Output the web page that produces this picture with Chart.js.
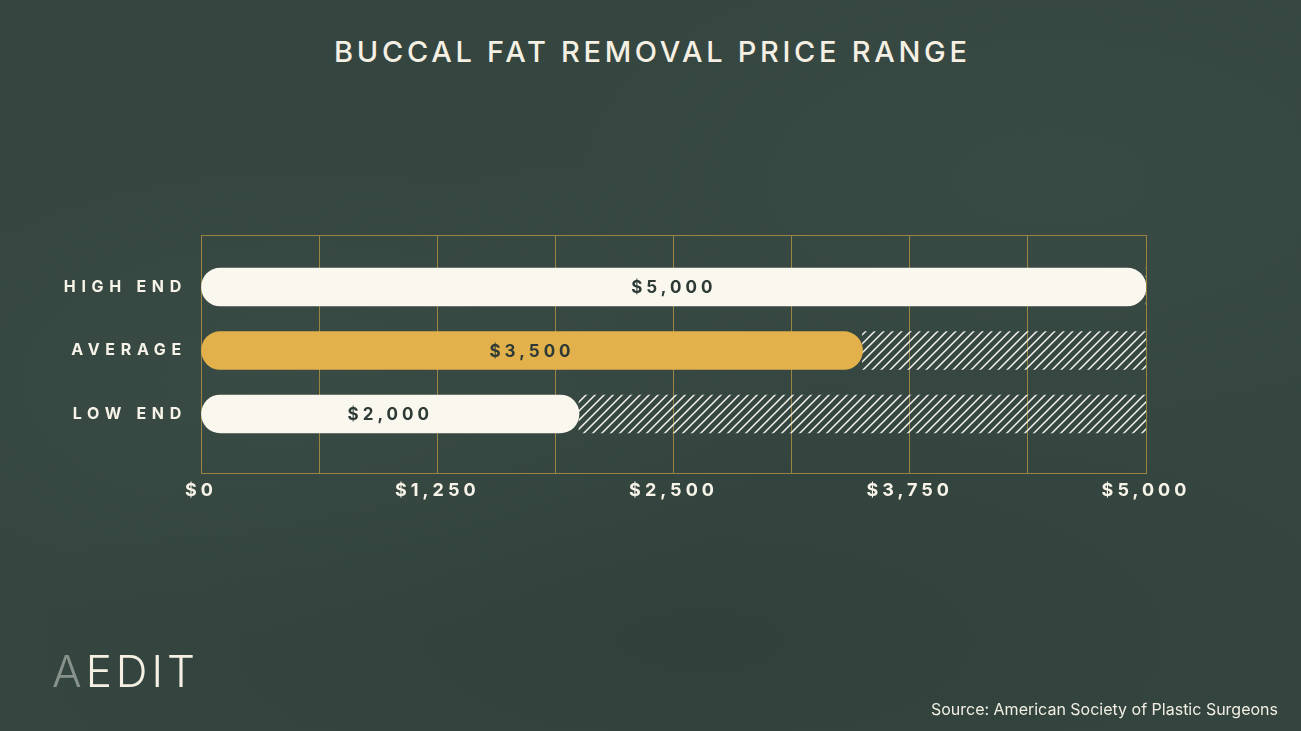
<!DOCTYPE html>
<html>
<head>
<meta charset="utf-8">
<script src="https://cdn.jsdelivr.net/npm/chart.js@4/dist/chart.umd.min.js"></script>
<style>
  html, body { margin: 0; padding: 0; overflow: hidden; }
  body {
    width: 1301px; height: 731px; position: relative;
    background:
      radial-gradient(ellipse 520px 260px at 300px 380px, rgba(80,100,92,0.16), rgba(0,0,0,0)),
      radial-gradient(ellipse 600px 300px at 1050px 180px, rgba(80,100,92,0.14), rgba(0,0,0,0)),
      radial-gradient(ellipse 700px 260px at 700px 640px, rgba(20,32,28,0.12), rgba(0,0,0,0)),
      #34463f;
    font-family: Inter, "Noto Sans", sans-serif;
  }
  #wrap { position: absolute; left: 0; top: 0; width: 1301px; height: 731px; }
  h1 {
    position: absolute; left: 0; top: 37px; width: 1301px; margin: 0;
    text-align: center; font-size: 29px; line-height: 1; font-weight: 500;
    letter-spacing: 3.7px; padding-left: 3.7px; box-sizing: border-box;
    color: #f5f0e3;
  }
  .logo {
    position: absolute; left: 52px; top: 649px; font-size: 44px; line-height: 1;
    font-weight: 300; letter-spacing: 4px; color: #f5f0e3;
  }
  .logo span { color: #88928d; }
  .source {
    position: absolute; right: 23px; top: 701px; font-size: 16px; line-height: 1;
    color: #f2eee3;
  }
</style>
</head>
<body>
<h1>BUCCAL FAT REMOVAL PRICE RANGE</h1>
<div id="wrap"><canvas id="priceChart"></canvas></div>
<div class="logo"><span>A</span>EDIT</div>
<div class="source">Source: American Society of Plastic Surgeons</div>

<script>
// chart data
const categories = ['HIGH END', 'AVERAGE', 'LOW END'];
const prices = [5000, 3500, 2000];
const rangeMax = 5000;
const gridStep = 625;
const labelStep = 1250;

const barColors = ['#faf7ee', '#e3b14b', '#faf7ee'];
const gridColor = '#9a8443';

function money(v) {
  return '$' + v.toLocaleString('en-US');
}

// diagonal hatch used for the rest of the range
function makeHatch() {
  const s = 9;
  const c = document.createElement('canvas');
  c.width = s; c.height = s;
  const g = c.getContext('2d');
  g.strokeStyle = '#f6f4ee';
  g.lineWidth = 1.5;
  g.beginPath();
  g.moveTo(0, s); g.lineTo(s, 0);
  g.moveTo(-1, 1); g.lineTo(1, -1);
  g.moveTo(s - 1, s + 1); g.lineTo(s + 1, s - 1);
  g.stroke();
  return g.createPattern(c, 'repeat');
}

// letter spacing for the axis labels
const spacingPlugin = {
  id: 'spacing',
  beforeDraw(chart) {
    [['x', '4px'], ['y', '5.7px']].forEach(([id, ls]) => {
      const s = chart.scales[id];
      if (s._spaced) return;
      const draw = s.drawLabels.bind(s);
      s.drawLabels = area => {
        const prev = s.ctx.letterSpacing;
        s.ctx.letterSpacing = ls;
        draw(area);
        s.ctx.letterSpacing = prev;
      };
      s._spaced = true;
    });
  }
};

// top edge of the plot box
const framePlugin = {
  id: 'frame',
  beforeDatasetsDraw(chart) {
    const { ctx, chartArea: a } = chart;
    ctx.save();
    ctx.strokeStyle = gridColor;
    ctx.lineWidth = 1;
    ctx.beginPath();
    ctx.moveTo(a.left, a.top + 0.5);
    ctx.lineTo(a.right, a.top + 0.5);
    ctx.stroke();
    ctx.restore();
  }
};

// price label in the middle of each bar
const valueLabels = {
  id: 'valueLabels',
  afterDatasetsDraw(chart) {
    const ctx = chart.ctx;
    const meta = chart.getDatasetMeta(0);
    ctx.save();
    ctx.font = '700 17px Inter, "Noto Sans", sans-serif';
    ctx.letterSpacing = '4px';
    ctx.fillStyle = '#2d3a36';
    ctx.textAlign = 'center';
    ctx.textBaseline = 'middle';
    meta.data.forEach((bar, i) => {
      ctx.fillText(money(prices[i]), (bar.x + bar.base) / 2, bar.y + 1);
    });
    ctx.restore();
  }
};

const ctx = document.getElementById('priceChart').getContext('2d');

new Chart(ctx, {
  type: 'bar',
  data: {
    datasets: [{
      data: prices.map((p, i) => ({ x: p, y: i + 1 })),
      backgroundColor: barColors,
      borderWidth: 0,
      borderRadius: 19,
      borderSkipped: false,
      barThickness: 38,
      grouped: false,
      order: 1
    }, {
      data: prices.map((p, i) => ({ x: [p, rangeMax], y: i + 1 })),
      backgroundColor: makeHatch(),
      borderWidth: 0,
      barThickness: 38,
      grouped: false,
      order: 2
    }]
  },
  options: {
    indexAxis: 'y',
    responsive: true,
    maintainAspectRatio: false,
    animation: false,
    layout: {
      padding: { left: 0, right: 155, top: 235, bottom: 218 }
    },
    plugins: {
      legend: { display: false },
      tooltip: { enabled: false },
      title: { display: false }
    },
    scales: {
      x: {
        type: 'linear',
        min: 0,
        max: rangeMax,
        afterFit: s => { s.height = 40; },
        grid: { color: gridColor, lineWidth: 1, drawTicks: false },
        border: { display: true, color: gridColor },
        ticks: {
          stepSize: gridStep,
          autoSkip: false,
          maxRotation: 0,
          padding: 7,
          color: '#f7f3e8',
          font: { family: 'Inter, "Noto Sans", sans-serif', size: 18, weight: '700' },
          callback: v => (v % labelStep === 0 ? money(v) : '')
        }
      },
      y: {
        type: 'linear',
        reverse: true,
        offset: false,
        min: 0.18,
        max: 3.93,
        afterFit: s => { s.width = 201; },
        afterBuildTicks: s => { s.ticks = categories.map((c, i) => ({ value: i + 1 })); },
        grid: { display: false, drawTicks: false, offset: false },
        border: { display: false },
        ticks: {
          padding: 14,
          color: '#f7f3e8',
          font: { family: 'Inter, "Noto Sans", sans-serif', size: 16, weight: '700' },
          callback: v => categories[v - 1] || ''
        }
      }
    }
  },
  plugins: [spacingPlugin, framePlugin, valueLabels]
});
</script>
</body>
</html>
